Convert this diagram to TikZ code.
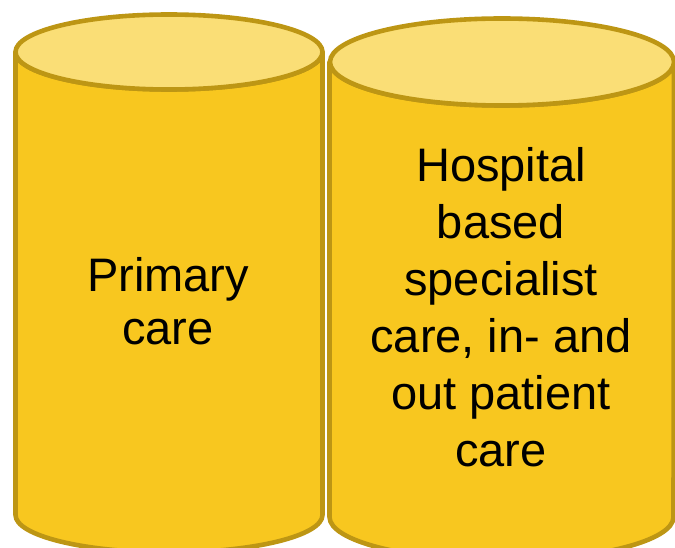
\documentclass[tikz,border=0pt]{standalone}
\usepackage{fontspec}
\setmainfont{Liberation Sans}
\definecolor{drumbody}{RGB}{248,199,31}
\definecolor{drumtop}{RGB}{250,222,118}
\definecolor{drumedge}{RGB}{189,150,20}
\tikzset{
  drumside/.style={fill=drumbody, draw=drumedge, line width=4.6pt, line join=round},
  drumlid/.style={fill=drumtop, draw=drumedge, line width=4.6pt},
  drumlabel/.style={align=center, inner sep=0pt, text=black, font=\fontsize{47}{#1}\selectfont},
}
\begin{document}
\begin{tikzpicture}[x=1pt, y=1pt]
  \useasboundingbox (0,0) rectangle (675,-548);
  \clip (0,0) rectangle (675,-548);

  % left drum
  \path[drumside] (15.5,-52) -- (15.5,-515)
     arc[start angle=180, end angle=360, x radius=153.5, y radius=37.5]
     -- (322.5,-52)
     arc[start angle=360, end angle=180, x radius=153.5, y radius=37.5] -- cycle;
  \path[drumlid] (169,-52) ellipse[x radius=153.5, y radius=37.5];

  % right drum
  \path[drumside] (329.5,-62) -- (329.5,-517)
     arc[start angle=180, end angle=360, x radius=172, y radius=43.5]
     -- (674,-62)
     arc[start angle=360, end angle=180, x radius=172, y radius=43.5] -- cycle;
  \path[drumlid] (502,-62) ellipse[x radius=172, y radius=43.5];

  \node[drumlabel=53] (primary) at (168,-301) {Primary\\care};
  \node[drumlabel=57] (hospital) at (501,-307.5) {Hospital\\based\\specialist\\care, in- and\\out patient\\care};
\end{tikzpicture}
\end{document}
